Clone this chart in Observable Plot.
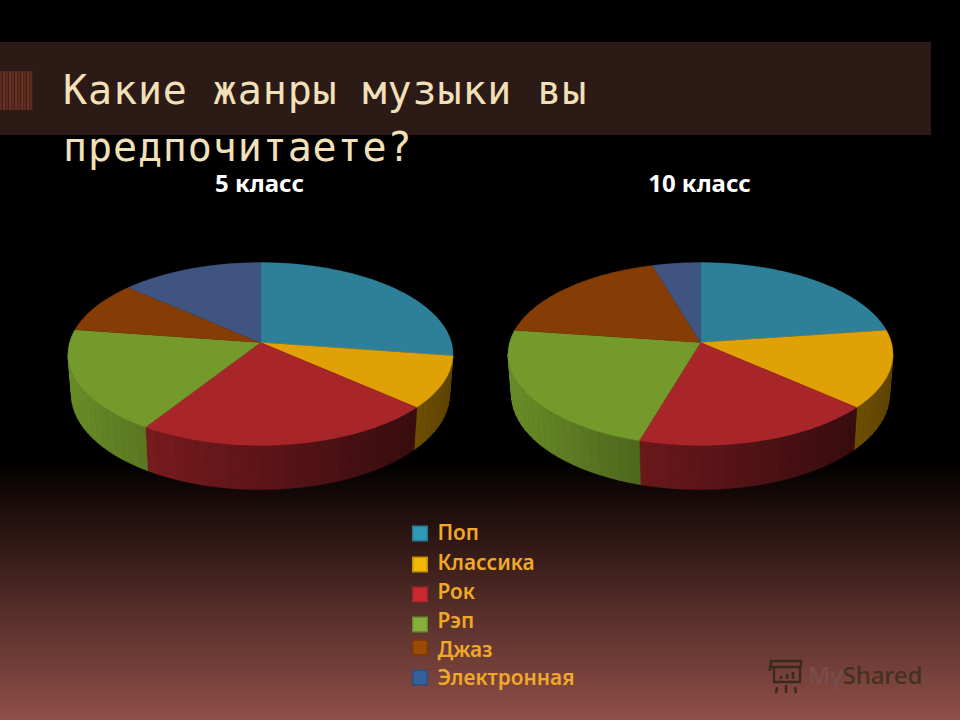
<!DOCTYPE html>
<html lang="ru">
<head>
<meta charset="utf-8">
<script src="https://cdn.jsdelivr.net/npm/d3@7"></script>
<script src="https://cdn.jsdelivr.net/npm/@observablehq/plot@0.6"></script>
<style>
html,body{margin:0;padding:0;width:960px;height:720px;overflow:hidden}
body{position:relative;background:linear-gradient(to bottom,#000 0,#000 64%,#1a0c0a 70%,#5a302b 86%,#8f4f48 100%)}
#band{position:absolute;left:0;top:42px;width:931px;height:93px;background:#2b1a16}
#orn{position:absolute;left:0;top:71px;width:33px;height:39px;background:repeating-linear-gradient(to right,#5c2a1e 0 2px,#3d1f18 2px 3px,#6b3222 3px 5px,#4a2319 5px 6px)}
#chart{position:absolute;left:0;top:0}
#chart svg{display:block;background:transparent}
h1{position:absolute;left:63px;top:61.5px;width:600px;margin:0;font:400 40px/57.5px "DejaVu Sans Mono",monospace;color:#f1e0b8;letter-spacing:.88px}
#wm{position:absolute;left:808px;top:658px;font:500 24.2px "Noto Sans",sans-serif;color:#43301f;letter-spacing:-.2px}
#wm span{color:#7b4c4c}
#icon{position:absolute;left:767px;top:657px}
</style>
</head>
<body>
<div id="band"></div>
<div id="orn"></div>
<div id="chart"></div>
<h1>Какие жанры музыки вы предпочитаете?</h1>
<svg id="icon" width="38" height="38" viewBox="0 0 38 38" fill="none" stroke="#3a2a1c" stroke-width="2.4">
<path d="M4 10V4h30v6M4 10h30M7 10v15h26V10M3 14V8M10 30l-1 6M19 28v8M28 30l1 6"/>
<path d="M14 22v-3M20 22v-5M26 22v-7" stroke-width="2.8"/>
</svg>
<div id="wm"><span>My</span>Shared</div>
<script>
const genres = ["Поп", "Классика", "Рок", "Рэп", "Джаз", "Электронная"];
const grade5 = [27.3, 9.2, 22.55, 18.25, 9.2, 13.5];
const grade10 = [22.8, 13.7, 18.05, 22.65, 18.25, 4.55];
const gradeNames = ["5 класс", "10 класс"];
const faceColors = ["#2e8098", "#e0a106", "#a8262a", "#739a2b", "#853c05", "#3f5480"];
const swatchColors = ["#2f9ab8", "#f2b705", "#c8282e", "#86b03a", "#9a4a05", "#35609e"];
const swatchBorders = ["#2b7a90", "#c08f05", "#a02428", "#6a8c2e", "#7a3a05", "#2c4e80"];

// layout of the drawing (not data)
const centers = [260, 700], rimCY = 353.5, apexY = 342, RX = 192.5, RY = 91.5;
const K = -(rimCY - apexY) / RY, R = RX * Math.sqrt(1 - K * K);
const botCY = 394, botRY = 95, botRX = 189;
const wallShade = {"Поп": [.6, -.2], "Классика": [.82, -.4], "Рок": [.55, -.27], "Рэп": [.55, -.37], "Джаз": [.6, -.2], "Электронная": [.6, -.2]};
const legendDotY = [533, 564, 594, 624, 647, 677];
const legendTextY = [533, 563, 592, 621, 650, 678];

function rim(cx, theta) {
  const u = Math.sin(theta), v = -Math.cos(theta), d = 1 + K * v;
  return {x: cx + R * u / d, y: rimCY + (RY * v + RY * K) / d};
}
function bottom(cx, p) {
  return {x: cx + (p.x - cx) * botRX / RX, y: botCY + (p.y - rimCY) * botRY / RY};
}
function shade(hex, f) {
  const c = d3.rgb(hex);
  return d3.rgb(c.r * f, c.g * f, c.b * f).formatHex();
}

const faces = [], walls = [];
[grade5, grade10].forEach((vals, pi) => {
  const cx = centers[pi], total = d3.sum(vals);
  let acc = 0;
  vals.forEach((val, i) => {
    const a0 = acc / total * 2 * Math.PI, a1 = (acc + val) / total * 2 * Math.PI;
    acc += val;
    const id = pi + "-" + i, n = Math.max(2, Math.ceil((a1 - a0) / (Math.PI / 180)));
    faces.push({id, genre: genres[i], x: cx, y: apexY});
    const arc = d3.range(n + 1).map(k => a0 + (a1 - a0) * k / n);
    arc.forEach(t => { const p = rim(cx, t); faces.push({id, genre: genres[i], x: p.x, y: p.y}); });
    faces.push({id, genre: genres[i], x: cx, y: apexY});
    // side wall: narrow vertical bands along the front of the rim
    const step = Math.PI / 60;
    for (let t = a0, j = 0; t < a1 - 1e-6; t += step, j++) {
      const s0 = t, s1 = Math.min(a1, t + step);
      const p0 = rim(cx, s0), p1 = rim(cx, s1);
      if (p0.y < rimCY - .01 && p1.y < rimCY - .01) continue;
      const tp0 = p0.y < rimCY ? {x: p0.x, y: rimCY} : p0, tp1 = p1.y < rimCY ? {x: p1.x, y: rimCY} : p1;
      if (Math.abs(tp0.x - tp1.x) < .01) continue;
      const b0 = bottom(cx, tp0), b1 = bottom(cx, tp1);
      const rel = ((tp0.x + tp1.x) / 2 - cx) / RX, [a, b] = wallShade[genres[i]];
      const fill = shade(faceColors[i], a + b * rel);
      [tp0, tp1, b1, b0, tp0].forEach(q => walls.push({id: id + "-" + j, x: q.x, y: q.y, fill}));
    }
  });
});

const legend = genres.map((g, i) => ({g, i}));
const titles = gradeNames.map((t, i) => ({t, x: centers[i] - 1}));

const plot = Plot.plot({
  width: 960, height: 720, margin: 0,
  x: {domain: [0, 960], range: [0, 960], axis: null},
  y: {domain: [0, 720], range: [0, 720], axis: null},
  color: {domain: genres, range: faceColors},
  marks: [
    Plot.line(walls, {x: "x", y: "y", z: "id", fill: {value: "fill", scale: null}, stroke: {value: "fill", scale: null}, strokeWidth: .7}),
    Plot.line(faces, {x: "x", y: "y", z: "id", fill: "genre", stroke: "genre", strokeWidth: .3}),
    Plot.text(titles, {x: "x", y: () => 184, text: "t", fill: "#fff", fontSize: 24, fontWeight: 700, fontFamily: "Noto Sans"}),
    Plot.dot(legend, {x: () => 419.5, y: d => legendDotY[d.i], symbol: "square", r: 8.2, fill: d => swatchColors[d.i], stroke: d => swatchBorders[d.i], strokeWidth: 1.5}),
    Plot.text(legend, {x: () => 437, y: d => legendTextY[d.i], text: "g", textAnchor: "start", fill: "#f0a828", fontSize: 20.8, fontWeight: 600, fontFamily: "Noto Sans"})
  ]
});
document.getElementById("chart").appendChild(plot);
</script>
</body>
</html>
